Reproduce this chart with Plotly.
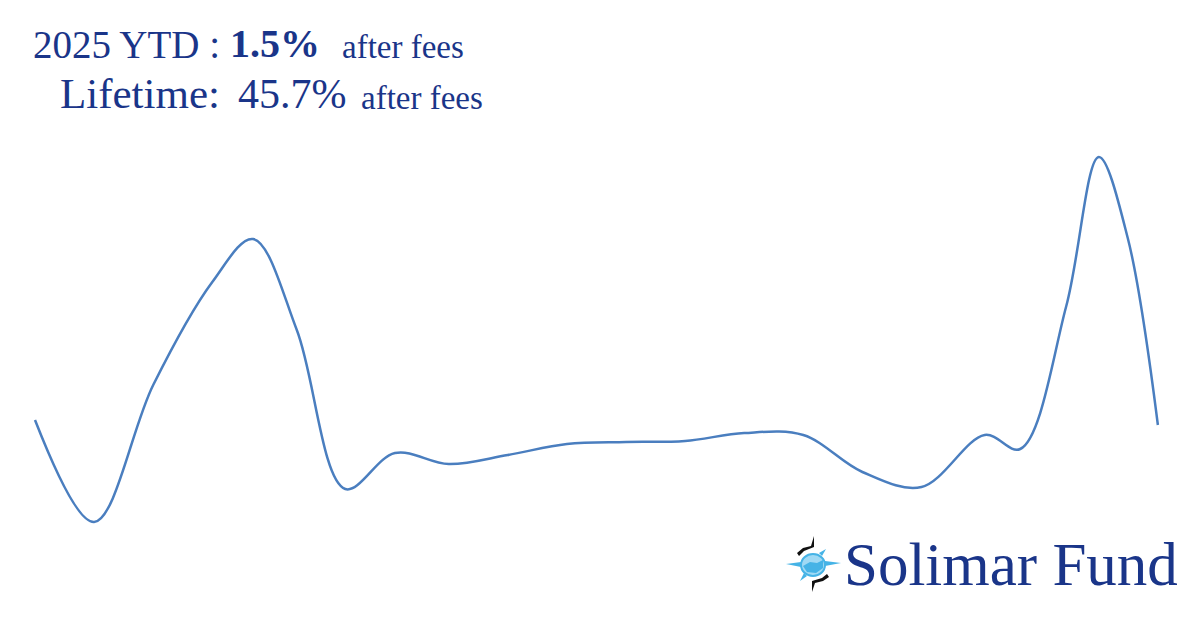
import plotly.graph_objects as go

# ---- data: period (months since start) and return % ----
periods = [0.0, 1.0, 2.0, 3.0, 3.69, 4.43, 5.25, 6.09, 7.0, 8.0, 9.0, 10.0,
           11.0, 12.0, 13.0, 14.0, 15.0, 16.07, 16.67, 17.45, 18.0, 18.49, 19.0]
returns = [6.0, -4.2, 9.5, 19.8, 24.1, 15.0, -0.9, 2.7, 1.6, 2.5, 3.6, 3.8,
           3.9, 4.7, 4.5, 0.8, -0.7, 4.5, 3.1, 17.4, 32.3, 24.2, 5.5]

ytd_label = "2025 YTD :"
ytd_value = "1.5%"
life_label = "Lifetime:"
life_value = "45.7%"
fees_label = "after fees"
brand = "Solimar Fund"

W, H = 1200, 630
OFF = 8  # page body margin
NAVY = "#1a3589"
LINE = "#4a7ebf"
SERIF = "Liberation Serif, Times New Roman, serif"

fig = go.Figure()
fig.add_trace(go.Scatter(x=periods, y=returns, mode="lines",
                         line=dict(color=LINE, width=2.5, shape="spline", smoothing=1.0,
                                   simplify=False),
                         hoverinfo="skip", showlegend=False))


def px(x):
    return (x - OFF) / W


def py(y):
    return 1 - (y - OFF) / H


def text(s, x, y, size, bold=False):
    fig.add_annotation(text=f"<b>{s}</b>" if bold else s, x=px(x), y=py(y), xref="paper", yref="paper",
                       xanchor="left", yanchor="bottom", showarrow=False,
                       font=dict(family=SERIF, size=size, color=NAVY))


# header text
text(ytd_label, 31, 68, 39)
text(ytd_value, 228, 68, 40, bold=True)
text(fees_label, 340, 67, 33)
text(life_label, 58, 119, 43)
text(life_value, 236, 119, 42)
text(fees_label, 359, 118, 33)

# brand
text(brand, 842, 600, 61)


# logo icon (decorative)
def path(pts, close=True):
    d = "M " + " L ".join(f"{px(a)},{py(b)}" for a, b in pts)
    return d + (" Z" if close else "")


BLUE = "#45b3e6"
cx, cy = 813, 565
fig.add_shape(type="circle", xref="paper", yref="paper",
              x0=px(cx - 12), x1=px(cx + 12), y0=py(cy + 11), y1=py(cy - 11),
              fillcolor="#9fd9f4", line=dict(color=BLUE, width=2))
fig.add_shape(type="path", xref="paper", yref="paper",
              path=path([(cx - 10, cy + 1), (cx - 3, cy - 3), (cx + 4, cy - 2), (cx + 10, cy - 5),
                         (cx + 10, cy + 3), (cx + 3, cy + 8), (cx - 6, cy + 7)]),
              fillcolor=BLUE, line=dict(width=0))
# blue spikes
fig.add_shape(type="path", xref="paper", yref="paper",
              path=path([(cx - 27, cy - 1), (cx - 12, cy - 3), (cx - 12, cy + 2)]),
              fillcolor=BLUE, line=dict(width=0))
fig.add_shape(type="path", xref="paper", yref="paper",
              path=path([(cx + 28, cy - 2), (cx + 12, cy - 4), (cx + 12, cy + 1)]),
              fillcolor=BLUE, line=dict(width=0))
fig.add_shape(type="path", xref="paper", yref="paper",
              path=path([(cx + 13, cy - 16), (cx + 6, cy - 12), (cx + 9, cy - 9)]),
              fillcolor=BLUE, line=dict(width=0))
fig.add_shape(type="path", xref="paper", yref="paper",
              path=path([(cx - 13, cy + 16), (cx - 6, cy + 11), (cx - 9, cy + 8)]),
              fillcolor=BLUE, line=dict(width=0))
# black arcs with spikes
fig.add_shape(type="path", xref="paper", yref="paper",
              path=path([(cx - 16, cy - 12), (cx - 10, cy - 17), (cx - 2, cy - 19), (cx + 1, cy - 29),
                         (cx + 1, cy - 18), (cx - 9, cy - 14), (cx - 14, cy - 9)]),
              fillcolor="#111111", line=dict(width=0))
fig.add_shape(type="path", xref="paper", yref="paper",
              path=path([(cx + 16, cy + 12), (cx + 10, cy + 16), (cx + 2, cy + 18), (cx - 1, cy + 27),
                         (cx - 1, cy + 16), (cx + 9, cy + 13), (cx + 14, cy + 9)]),
              fillcolor="#111111", line=dict(width=0))

# axis ranges offset by the page margin so the line sits where the reference has it
fig.update_layout(
    width=W, height=H,
    margin=dict(l=0, r=0, t=0, b=0),
    paper_bgcolor="white", plot_bgcolor="white",
    xaxis=dict(range=[-0.4569, 19.848], visible=False, fixedrange=True),
    yaxis=dict(range=[-15.8, 47.2], visible=False, fixedrange=True),
    showlegend=False,
)

fig.write_html("out.html", config={"displayModeBar": False})
